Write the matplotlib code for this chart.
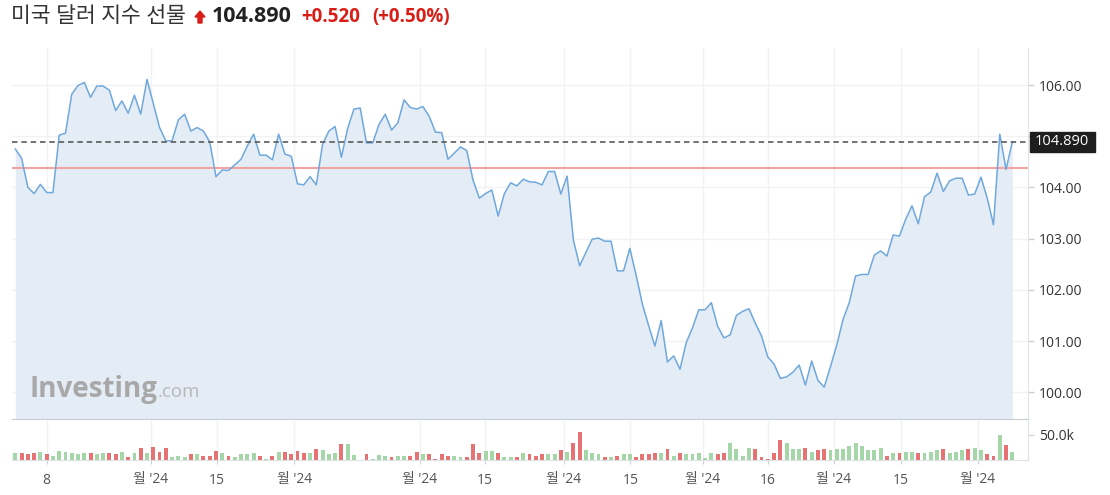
import matplotlib
matplotlib.use('Agg')
import matplotlib.pyplot as plt
import numpy as np
from matplotlib.patches import Polygon, Rectangle

plt.rcParams['font.family'] = ['Open Sans', 'Noto Sans CJK KR', 'DejaVu Sans']

# ---------------- data ----------------
title = '미국 달러 지수 선물'
last_price = 104.890
change = 0.520
change_pct = 0.50
prev_close = 104.37

price = [
    104.75, 104.57, 104.00, 103.88, 104.06, 103.90, 103.90, 105.02, 105.06, 105.82,
    105.99, 106.05, 105.76, 105.98, 105.98, 105.90, 105.50, 105.69, 105.45, 105.80,
    105.43, 106.11, 105.64, 105.17, 104.91, 104.91, 105.32,
    105.43, 105.10, 105.17, 105.10, 104.89, 104.21, 104.34, 104.33, 104.44, 104.55,
    104.81, 105.04, 104.63, 104.63, 104.54, 105.04, 104.65, 104.61, 104.07, 104.05,
    104.21, 104.05, 104.84, 105.10, 105.19, 104.59, 105.15,
    105.53, 105.55, 104.87, 104.87, 105.23, 105.43, 105.12, 105.26, 105.71, 105.56,
    105.53, 105.58, 105.39, 105.08, 105.07, 104.55, 104.67, 104.79, 104.72, 104.14,
    103.79, 103.88, 103.95, 103.44, 103.88, 104.09,
    104.03, 104.16, 104.11, 104.10, 104.05, 104.31, 104.31, 103.87, 104.22, 102.97,
    102.47, 102.73, 102.99, 103.01, 102.95, 102.95, 102.37, 102.37, 102.81, 102.29,
    101.72, 101.30, 100.90, 101.40, 100.59, 100.71,
    100.45, 100.97, 101.26, 101.61, 101.61, 101.75, 101.29, 101.06, 101.12, 101.50,
    101.58, 101.63, 101.35, 101.10, 100.69, 100.55, 100.27, 100.30, 100.39, 100.53,
    100.14, 100.61, 100.23, 100.10, 100.50, 100.92,
    101.42, 101.75, 102.27, 102.30, 102.30, 102.68, 102.76, 102.66, 103.07, 103.05,
    103.38, 103.64, 103.29, 103.82, 103.91, 104.28, 103.92, 104.13, 104.18, 104.18,
    103.85, 103.87, 104.20, 103.79, 103.27, 105.04, 104.35, 104.89,
]

volume_k = [
    14, 14, 12, 14, 16, 12, 9, 19, 17, 14,
    12, 14, 14, 12, 14, 14, 12, 16, 6, 14,
    25, 14, 27, 16, 25, 7, 9, 7, 12, 12,
    9, 9, 19, 14, 9, 7, 12, 12, 14, 9,
    2, 9, 16, 16, 12, 19, 14, 14, 23, 21,
    12, 14, 33, 33, 11, 1, 12, 2, 10, 9,
    7, 9, 9, 9, 16, 12, 12, 2, 12, 9,
    9, 7, 7, 33, 14, 19, 19, 14, 7, 7,
    7, 14, 12, 9, 12, 12,
    11.8, 19.4, 16.7, 33.3, 56.2, 19.4, 14.6, 11.8, 6.9, 6.9,
    9.0, 11.8, 11.8, 6.9, 11.8, 11.8, 14.6, 14.6, 22.9, 9.0,
    14.6, 11.8, 11.8, 14.6, 4.9, 14.6, 11.8, 14.6, 33.3, 22.9,
    9.0, 25.0, 22.9, 6.9, 1.4, 14.6, 40.3, 33.3, 22.9, 22.9,
    25.0, 16.7, 19.4, 22.9, 19.4, 22.9, 22.9, 27.8, 33.3, 27.8,
    19.4, 19.4, 25.0, 9.0, 14.6, 14.6, 16.7, 16.7, 14.6, 14.6,
    16.7, 19.4, 22.9, 14.6, 16.7, 19.4, 22.9, 25.0, 19.4, 11.8,
    9.0, 50.7, 29.8, 16.7,
]

tick_pos = [5, 21.6, 32.1, 44.5, 64.5, 74.9, 87.5, 98.1, 109.6, 120, 130.5, 141.2, 153.5]
tick_labels = ['8', "월 '24", '15', "월 '24", "월 '24", '15', "월 '24", '15',
               "월 '24", '16', "월 '24", '15', "월 '24"]
y_ticks = [100, 101, 102, 103, 104, 105, 106]
vol_ticks = [50]

# ---------------- layout ----------------
W, H = 1110, 495
fig = plt.figure(figsize=(W / 100, H / 100), dpi=100)
fig.patch.set_facecolor('white')


def fx(px):
    return px / W


def fy(py):
    return 1 - py / H


left, right = 12, 1028
main_top, main_bot = 48, 419
vol_top, vol_bot = 421, 460

ax = fig.add_axes([fx(left), fy(main_bot), (right - left) / W, (main_bot - main_top) / H])
axv = fig.add_axes([fx(left), fy(vol_bot), (right - left) / W, (vol_bot - vol_top) / H])

x = np.arange(len(price))
xlim = (-0.53, 161.5)
ylim = (99.477, 106.723)

line_c = '#6fa8dc'
fill_c = '#e4ecf5'
grid_c = '#f0f2f4'

# price panel
ax.fill_between(x, price, ylim[0], color=fill_c, lw=0, zorder=1)
ax.plot(x, price, color=line_c, lw=1.1, zorder=3)
ax.axhline(prev_close, color='#f4a3a3', lw=1.5, zorder=2)
ax.axhline(last_price, color='#5a5a5a', lw=1.2, ls=(0, (3.3, 2.3)), zorder=4)
ax.set_xlim(*xlim)
ax.set_ylim(*ylim)
ax.set_yticks(y_ticks)
# the 105.00 label is hidden behind the last-price badge in the reference
ax.set_yticklabels(['' if abs(v - last_price) < 0.3 else f'{v:.2f}' for v in y_ticks])
ax.yaxis.tick_right()
ax.set_xticks(tick_pos)
ax.tick_params(axis='x', length=0, labelbottom=False)
ax.tick_params(axis='y', length=4, width=1, color='#c9cfd6', labelsize=10,
               labelcolor='#333333', pad=4)
ax.grid(True, color=grid_c, lw=1, zorder=0)
ax.set_axisbelow(True)
for s in ['top', 'left']:
    ax.spines[s].set_visible(False)
ax.spines['bottom'].set_color('#c5ccd4')
ax.spines['right'].set_color('#e1e5ea')

# last price badge
bx0, bx1 = 1030, 1095
ax_badge_y = main_top + (ylim[1] - last_price) / (ylim[1] - ylim[0]) * (main_bot - main_top)
fig.patches.append(Rectangle((fx(bx0), fy(ax_badge_y + 10)), (bx1 - bx0) / W, 20 / H,
                             transform=fig.transFigure, color='#1e1e1e', zorder=5))
fig.text(fx(1035), fy(ax_badge_y), f'{last_price:.3f}', color='white', fontsize=10.5,
         va='center', ha='left', zorder=6)

# volume panel
colors = ['#a5d6a7' if (i == 0 or price[i] >= price[i - 1]) else '#e57373'
          for i in range(len(price))]
axv.bar(x, volume_k, width=0.62, color=colors, lw=0, zorder=2)
axv.set_xlim(*xlim)
axv.set_ylim(0, 78)
axv.set_yticks(vol_ticks)
axv.set_yticklabels([f'{v:.1f}k' for v in vol_ticks])
axv.yaxis.tick_right()
axv.set_xticks(tick_pos)
axv.set_xticklabels(tick_labels)
axv.tick_params(axis='x', length=3, color='#c9cfd6', labelsize=10, labelcolor='#555555', pad=6)
axv.tick_params(axis='y', length=4, color='#c9cfd6', labelsize=10, labelcolor='#333333', pad=4)
axv.grid(True, axis='x', color=grid_c, lw=1, zorder=0)
axv.set_axisbelow(True)
for s in ['top', 'left']:
    axv.spines[s].set_visible(False)
axv.spines['bottom'].set_color('#dde2e8')
axv.spines['right'].set_color('#e1e5ea')

# watermark
fig.text(fx(29), fy(389), 'Investing', fontsize=20, fontweight='bold', color='#a8a8a8',
         va='center', ha='left', zorder=6)
fig.text(fx(158), fy(392), '.com', fontsize=13.5, color='#b8b8b8', va='center', ha='left',
         zorder=6)

# header
ty = 17
fig.text(fx(11), fy(ty), title, fontsize=15.5, color='#333333', va='center', ha='left')
arrow = Polygon([(fx(195), fy(17)), (fx(200), fy(11)), (fx(205), fy(17)), (fx(202), fy(17)),
                 (fx(202), fy(23)), (fx(198), fy(23)), (fx(198), fy(17))],
                closed=True, transform=fig.transFigure, color='#d91e18')
fig.patches.append(arrow)
fig.text(fx(212), fy(ty), f'{last_price:.3f}', fontsize=15.5, fontweight='bold', color='#222222',
         va='center', ha='left')
fig.text(fx(301), fy(ty), f'+{change:.3f}', fontsize=13.5, fontweight='bold', color='#d91e18',
         va='center', ha='left')
fig.text(fx(372), fy(ty), f'(+{change_pct:.2f}%)', fontsize=13.5, fontweight='bold',
         color='#d91e18', va='center', ha='left')

fig.savefig('out.png', dpi=100, facecolor='white')
